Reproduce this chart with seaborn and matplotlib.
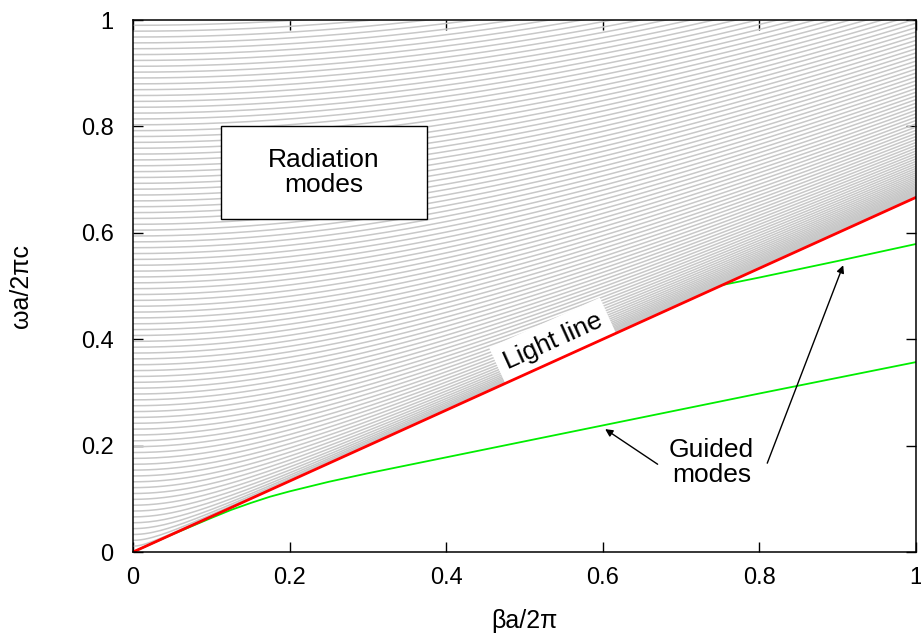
import numpy as np
import pandas as pd
import matplotlib
matplotlib.use('Agg')
import matplotlib.pyplot as plt
import seaborn as sns
from matplotlib.patches import Rectangle
from matplotlib.ticker import FuncFormatter

# values
n_clad = 1.5                 # light line: omega = beta / n_clad  (0.667 at beta = 1)
radiation_spacing = 0.011    # gap between radiation mode cut-offs at beta = 0
radiation_top = 1.0
beta_grid = np.linspace(0, 1, 201)

guided1_beta = [0.0, 0.05, 0.1, 0.125, 0.15, 0.175, 0.2, 0.25, 0.3, 0.4, 0.6, 0.8, 1.0]
guided1_omega = [0.0, 0.033, 0.064, 0.079, 0.092, 0.104, 0.114, 0.132, 0.148,
                 0.178, 0.238, 0.298, 0.357]
guided2_beta = [0.753, 0.8, 0.9, 1.0]
guided2_omega = [0.502, 0.516, 0.547, 0.579]

ticks = [0, 0.2, 0.4, 0.6, 0.8, 1]

# radiation continuum: one hyperbola per cut-off
cutoffs = np.arange(radiation_spacing, radiation_top + radiation_spacing, radiation_spacing)
rows = []
for k, c in enumerate(cutoffs):
    q = c * n_clad
    om = np.sqrt(beta_grid**2 + q**2) / n_clad
    rows.append(pd.DataFrame({'beta': beta_grid, 'omega': om, 'mode': k}))
rad = pd.concat(rows, ignore_index=True)

light = pd.DataFrame({'beta': beta_grid, 'omega': beta_grid / n_clad})
g1 = pd.DataFrame({'beta': guided1_beta, 'omega': guided1_omega})
g2 = pd.DataFrame({'beta': guided2_beta, 'omega': guided2_omega})

sns.set_style('ticks')
plt.rcParams['font.family'] = ['Liberation Sans', 'DejaVu Sans']
plt.rcParams['text.color'] = 'black'
plt.rcParams['axes.labelcolor'] = 'black'

fig = plt.figure(figsize=(9.21, 6.37), dpi=100)
ax = fig.add_axes([0.1444, 0.1334, 0.8502, 0.8352])

sns.lineplot(data=rad, x='beta', y='omega', units='mode', estimator=None,
             color='#c8c8c8', lw=1.1, sort=False, ax=ax)
sns.lineplot(data=g1, x='beta', y='omega', color='#00ee00', lw=1.3, sort=False, ax=ax)
sns.lineplot(data=g2, x='beta', y='omega', color='#00ee00', lw=1.3, sort=False, ax=ax)
sns.lineplot(data=light, x='beta', y='omega', color='#ff0000', lw=2.0, sort=False,
             ax=ax, zorder=6)

ax.set_xlim(0, 1)
ax.set_ylim(0, 1)
ax.set_xticks(ticks)
ax.set_yticks(ticks)
fmt = FuncFormatter(lambda v, p: f'{v:g}')
ax.xaxis.set_major_formatter(fmt)
ax.yaxis.set_major_formatter(fmt)
ax.tick_params(direction='in', length=7, width=1.0, top=True, right=True,
               labelsize=17, colors='black')
ax.tick_params(axis='x', pad=11)
ax.tick_params(axis='y', pad=14)
for s in ax.spines.values():
    s.set_linewidth(1.1)
    s.set_color('black')
    s.set_zorder(7)

ax.set_xlabel('βa/2π', fontsize=18, labelpad=14, color='black')
ax.set_ylabel('ωa/2πc', fontsize=18, labelpad=34, color='black')

# annotation boxes
ax.add_patch(Rectangle((0.112, 0.626), 0.263, 0.175, fc='white', ec='black',
                       lw=1.0, zorder=4))
ax.text(0.2435, 0.714, 'Radiation\nmodes', ha='center', va='center', color='black',
        fontsize=19, linespacing=1.05, zorder=5)

ax.text(0.536, 0.397, 'Light line', ha='center', va='center', rotation=24.4,
        rotation_mode='anchor', fontsize=19, zorder=5, color='black',
        bbox=dict(boxstyle='square,pad=0.3', fc='white', ec='none'))

ax.text(0.739, 0.169, 'Guided\nmodes', ha='center', va='center', color='black',
        fontsize=19, linespacing=1.05, zorder=5)
arrow = dict(arrowstyle='-|>', color='black', lw=1.0, mutation_scale=11,
             shrinkA=0, shrinkB=0)
ax.annotate('', xy=(0.603, 0.231), xytext=(0.670, 0.165), arrowprops=arrow)
ax.annotate('', xy=(0.907, 0.539), xytext=(0.810, 0.167), arrowprops=arrow)

fig.savefig('out.png', dpi=100)
